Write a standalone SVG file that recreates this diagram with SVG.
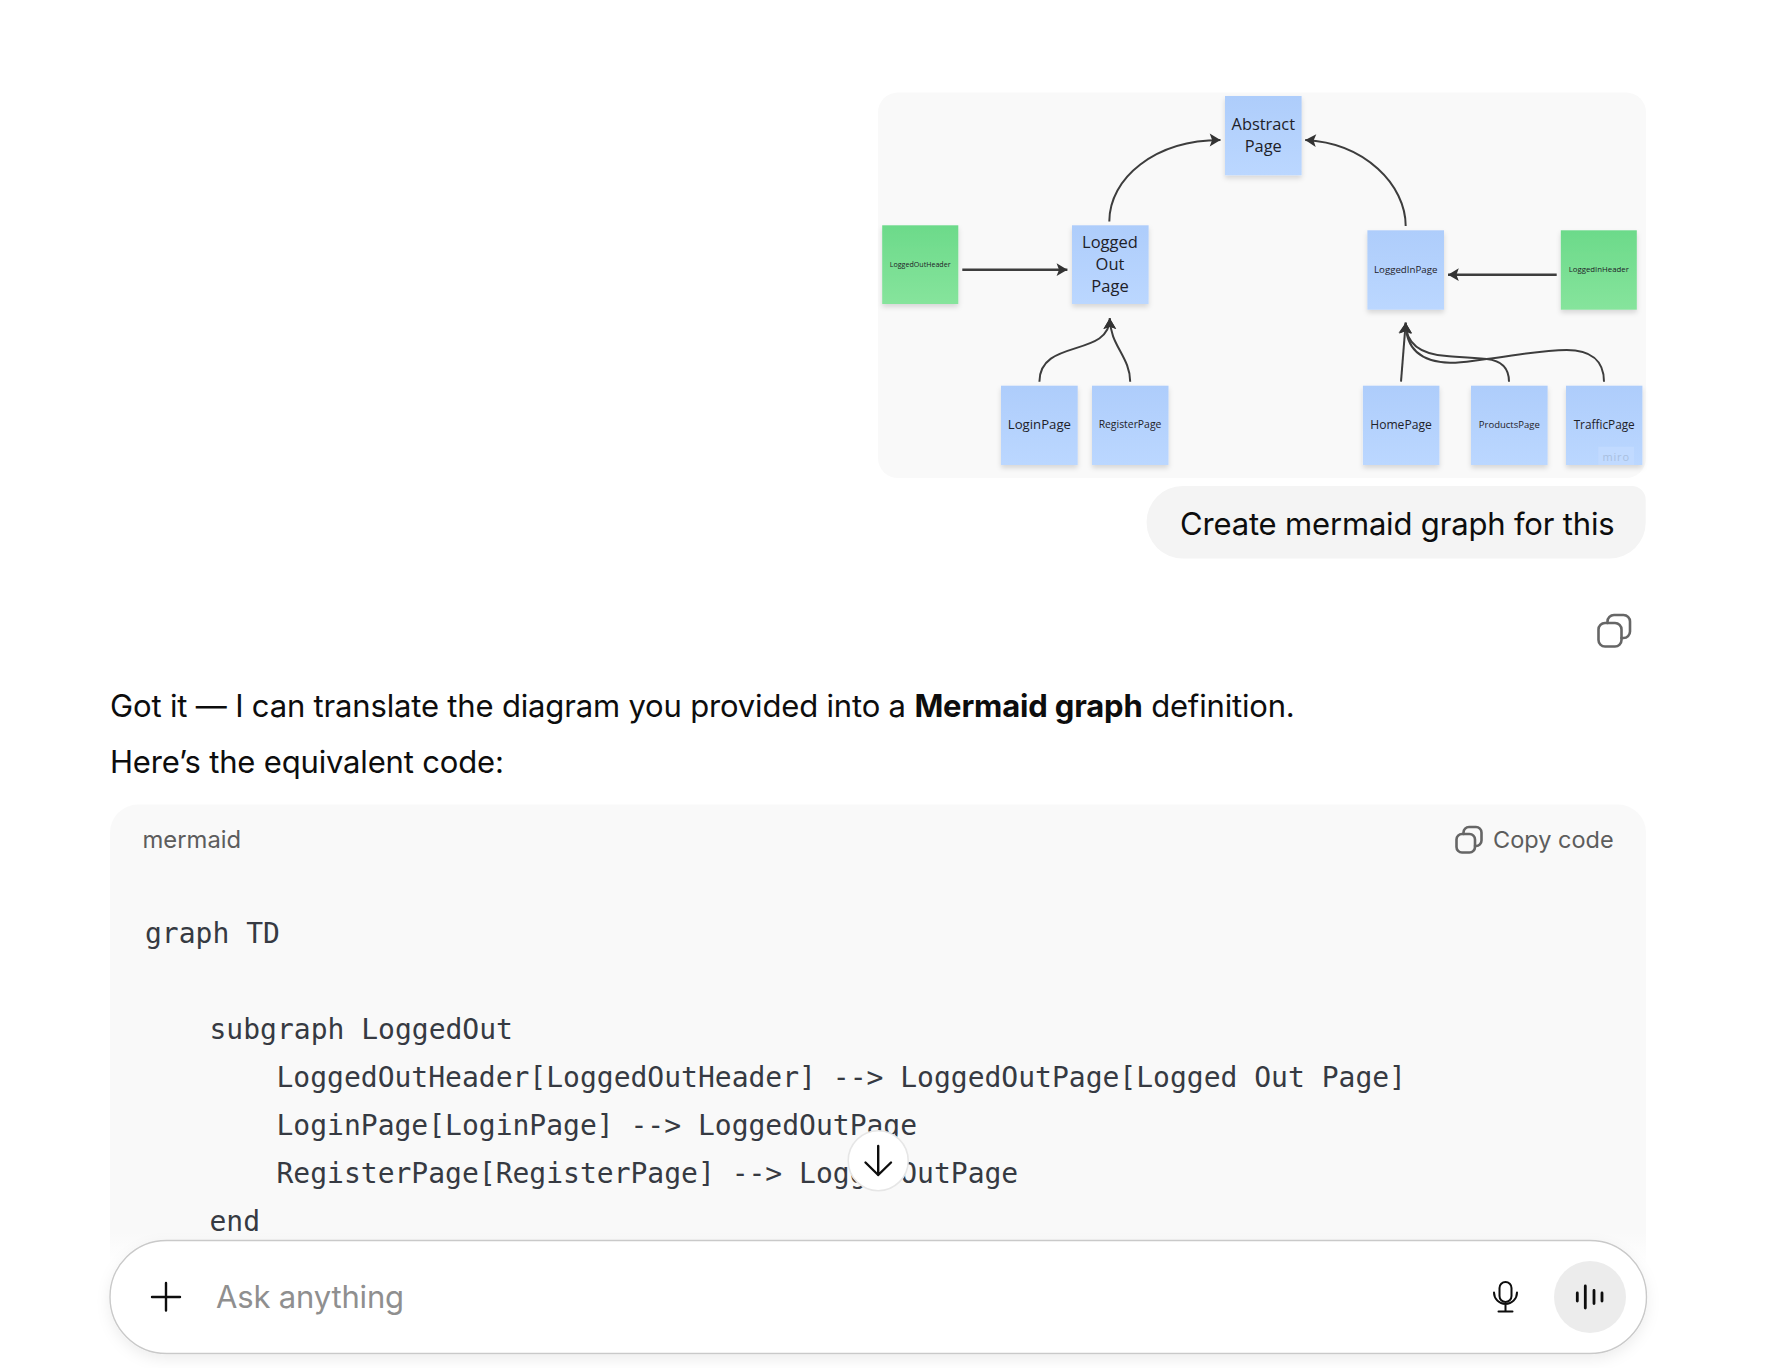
<svg xmlns="http://www.w3.org/2000/svg" width="1776" height="1368" viewBox="0 0 1776 1368">
<style>
text{font-family:"Inter","Liberation Sans",sans-serif;fill:#0d0d0d}
.ui{font-size:31px;letter-spacing:-0.17px}
.code{font-family:"DejaVu Sans Mono","Liberation Mono",monospace;font-size:28px;fill:#363a42}
.lbl{font-family:"Open Sans","Noto Sans",sans-serif;fill:#1e2128;text-anchor:middle}
.blue{fill:url(#gb);filter:url(#sh)}
.green{fill:url(#gg);filter:url(#sh)}
.conn{fill:none;stroke:#3d3d3d;stroke-width:2;marker-end:url(#ah)}
.thick{stroke-width:2.5}
.ico{fill:none;stroke:#666;stroke-width:2.6;stroke-linejoin:round;stroke-linecap:round}
.blk{fill:none;stroke:#0d0d0d;stroke-width:2.4;stroke-linecap:round;stroke-linejoin:round}
</style>
<defs>
<linearGradient id="gb" x1="0" y1="0" x2="0" y2="1"><stop offset="0" stop-color="#aecdfb"/><stop offset="1" stop-color="#bbd7ff"/></linearGradient>
<linearGradient id="gg" x1="0" y1="0" x2="0" y2="1"><stop offset="0" stop-color="#6cda8a"/><stop offset="1" stop-color="#86e49c"/></linearGradient>
<linearGradient id="fade" x1="0" y1="0" x2="0" y2="1"><stop offset="0" stop-color="#f9f9f9"/><stop offset="0.93" stop-color="#f9f9f9"/><stop offset="1" stop-color="#ffffff"/></linearGradient>
<filter id="sh" x="-20%" y="-20%" width="140%" height="140%"><feDropShadow dx="0" dy="3" stdDeviation="2.5" flood-color="#000" flood-opacity="0.14"/></filter>
<filter id="ish" x="-5%" y="-30%" width="110%" height="160%"><feDropShadow dx="0" dy="5" stdDeviation="7" flood-color="#000" flood-opacity="0.07"/></filter>
<marker id="ah" markerUnits="userSpaceOnUse" markerWidth="16" markerHeight="16" refX="12" refY="8" orient="auto"><path d="M1.2,1.6 L12,8 L1.2,14.4 L3.6,8 Z" fill="#333"/></marker>
</defs>
<rect width="1776" height="1368" fill="#fff"/>
<rect id="panel" x="878" y="92.5" width="768" height="385.5" rx="20" fill="#f9f9f9"/>
<g id="connectors">
<path class="conn" d="M1109.3,221.5 C1109.3,178 1155,140 1220.5,140"/>
<path class="conn" d="M1405.7,226 C1405.7,185 1365,143 1305.2,140"/>
<path class="conn thick" d="M962.3,269.7 L1067.4,269.7"/>
<path class="conn thick" d="M1556.7,274.7 L1448,274.7"/>
<path class="conn" d="M1039.4,381.7 C1039.4,338 1109.8,358 1109.8,318.3"/>
<path class="conn" d="M1130.2,381.7 C1130.2,357 1109.8,345 1109.8,318.3"/>
<path class="conn" d="M1401,381.7 L1405.7,322.7"/>
<path class="conn" d="M1509,381.7 C1509,368 1501,360.5 1486.7,359 C1470,357.5 1460,357 1446.7,356 C1425,354.5 1405.7,347 1405.7,322.7"/>
<path class="conn" d="M1604,381.7 C1604,360 1590,350 1566.7,350 C1540,350 1510,356.5 1486.7,359 C1470,361 1460,363 1450,362.7 C1425,362 1405.7,352 1405.7,322.7"/>
</g>
<g id="abstract-page"><rect class="blue" x="1225" y="96" width="76.6" height="79.3"/><text class="lbl" font-size="16.4" x="1263.3" y="130">Abstract</text><text class="lbl" font-size="16.4" x="1263.3" y="151.6">Page</text></g>
<g id="logged-out-header"><rect class="green" x="882.2" y="225.3" width="76.1" height="78.7"/><text class="lbl" font-size="7.1" x="920.2" y="266.5">LoggedOutHeader</text></g>
<g id="logged-out-page"><rect class="blue" x="1072" y="225.3" width="76.6" height="78.7"/><text class="lbl" font-size="16.5" x="1110" y="248">Logged</text><text class="lbl" font-size="16.5" x="1110" y="270">Out</text><text class="lbl" font-size="16.5" x="1110" y="292">Page</text></g>
<g id="logged-in-page"><rect class="blue" x="1367.4" y="230.3" width="76.6" height="79.4"/><text class="lbl" font-size="9.7" x="1405.7" y="273">LoggedInPage</text></g>
<g id="logged-in-header"><rect class="green" x="1560.8" y="230.3" width="76" height="79.4"/><text class="lbl" font-size="7.8" x="1598.8" y="272">LoggedInHeader</text></g>
<g id="login-page"><rect class="blue" x="1001" y="385.7" width="76.7" height="79.3"/><text class="lbl" font-size="13.2" x="1039.4" y="429">LoginPage</text></g>
<g id="register-page"><rect class="blue" x="1092" y="385.7" width="76.5" height="79.3"/><text class="lbl" font-size="10.4" x="1130" y="428">RegisterPage</text></g>
<g id="home-page"><rect class="blue" x="1362.9" y="385.7" width="76.5" height="79.3"/><text class="lbl" font-size="12.1" x="1401" y="429">HomePage</text></g>
<g id="products-page"><rect class="blue" x="1471" y="385.7" width="76.6" height="79.3"/><text class="lbl" font-size="9.5" x="1509.3" y="428">ProductsPage</text></g>
<g id="traffic-page"><rect class="blue" x="1566" y="385.7" width="76.4" height="79.3"/><text class="lbl" font-size="11.8" x="1604.2" y="429">TrafficPage</text></g>
<g id="miro-badge"><rect x="1598.3" y="446.7" width="35.7" height="18.3" fill="#c2daff" fill-opacity="0.85"/><text class="lbl" font-size="11" x="1616.2" y="460.7" letter-spacing="0.8" style="fill:#a9bfe0">miro</text></g>

<g id="user-bubble"><path d="M1182.6,486 H1631.7 a14,14 0 0 1 14,14 V522.5 a36,36 0 0 1 -36,36 H1182.6 a36,36 0 0 1 -36,-36 a36,36 0 0 1 36,-36.5 Z" fill="#f4f4f4"/><text class="ui" x="1180" y="534.5">Create mermaid graph for this</text></g>
<g id="copy-icon-message" class="ico"><rect x="1598.5" y="623" width="23" height="23.5" rx="6.5"/><path d="M1607.5,623 V621.5 a6.5,6.5 0 0 1 6.5,-6.5 h9.5 a6.5,6.5 0 0 1 6.5,6.5 v10 a6.5,6.5 0 0 1 -6.5,6.5 h-2"/></g>
<g id="answer"><text class="ui" x="110" y="716.5">Got it — I can translate the diagram you provided into a <tspan font-weight="700">Mermaid graph</tspan> definition.</text><text class="ui" x="110" y="772.5">Here’s the equivalent code:</text></g>

<g id="code-block">
<path d="M138,804.5 H1618 a28,28 0 0 1 28,28 V1265 H110 V832.5 a28,28 0 0 1 28,-28 Z" fill="url(#fade)"/>
<text x="142.5" y="848" font-size="23.8" style="fill:#5d5d5d">mermaid</text>
<g class="ico"><rect x="1456.5" y="834" width="18.5" height="18.5" rx="5.5"/><path d="M1463.5,834 V832.5 a5.5,5.5 0 0 1 5.5,-5.5 h7 a5.5,5.5 0 0 1 5.5,5.5 v8 a5.5,5.5 0 0 1 -5.5,5.5 h-1"/></g>
<text x="1493" y="848.3" font-size="23.5" style="fill:#5d5d5d">Copy code</text>
<text class="code" x="145" y="942.5">graph TD</text>
<text class="code" x="209.5" y="1039">subgraph LoggedOut</text>
<text class="code" x="276.5" y="1087">LoggedOutHeader[LoggedOutHeader] --&gt; LoggedOutPage[Logged Out Page]</text>
<text class="code" x="276.5" y="1135">LoginPage[LoginPage] --&gt; LoggedOutPage</text>
<text class="code" x="276.5" y="1183">RegisterPage[RegisterPage] --&gt; LoggedOutPage</text>
<text class="code" x="209.5" y="1231">end</text>
</g>
<g id="scroll-down"><circle cx="878.2" cy="1160.7" r="30" fill="#fff" stroke="#e6e6e6" stroke-width="1.6"/><path class="blk" d="M878.2,1146 V1175 M865.5,1162.5 L878.2,1175 L891,1162.5"/></g>
<g id="composer">
<rect x="110" y="1240.5" width="1536.5" height="113" rx="56.5" fill="#fff" stroke="#c9c9c9" stroke-width="1.4" filter="url(#ish)"/>
<path class="blk" d="M166,1283 V1310.5 M152,1297 H180"/>
<text class="ui" x="216" y="1308" style="fill:#8f8f8f">Ask anything</text>
<g class="blk" style="stroke-width:2"><rect x="1499.5" y="1282" width="12" height="20" rx="6"/><path d="M1494,1292.5 a11.5,11.5 0 0 0 23,0 M1505.5,1304 V1311.5 M1498.5,1311.5 H1512.5"/></g>
<circle cx="1590" cy="1297" r="36" fill="#ececec"/>
<path class="blk" style="stroke-width:2.8" d="M1577.3,1293 V1301 M1585.3,1286 V1308 M1594,1290.5 V1303.5 M1602,1293 V1301"/>
</g>
</svg>
